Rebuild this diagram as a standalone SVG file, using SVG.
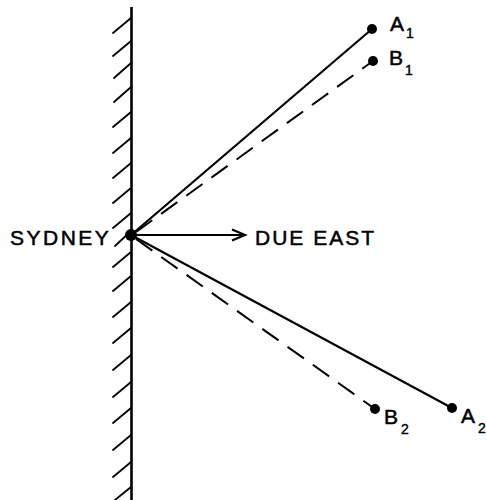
<svg xmlns="http://www.w3.org/2000/svg" width="486" height="500" viewBox="0 0 486 500">
<style>
.bg{fill:#fff}
.wall{stroke:#000;stroke-width:2.6;fill:none}
.hatch{stroke:#000;stroke-width:1.8;fill:none;stroke-linecap:round}
.solid{stroke:#000;stroke-width:2.2;fill:none}
.dash{stroke:#000;stroke-width:2;fill:none;stroke-dasharray:20 11}
.dot{fill:#000}
.lbl{font-family:"Liberation Sans",Arial,sans-serif;font-size:21px;fill:#000;stroke:#000;stroke-width:0.5}
.sub{font-family:"Liberation Sans",Arial,sans-serif;font-size:14px;fill:#000;stroke:#000;stroke-width:0.4}
</style>
<rect class="bg" x="0" y="0" width="486" height="500"/>
<g id="wall">
<line class="wall" x1="131.5" y1="7" x2="131.5" y2="500"/>
<path class="hatch" d="M131 18l-18 15M131 41l-18 15M131 63l-17 15M131 87l-17 15M131 112l-18 15M131 138l-18 15M131 163l-18 15M131 188l-18 15M131 213l-18 15M131 231l-16 15M131 252l-18 15M131 276l-18 15M131 302l-18 15M131 328l-18 15M131 355l-18 15M131 382l-18 15M131 408l-18 15M131 435l-18 15M131 462l-18 15M131 487l-16 13"/>
</g>
<g id="connectors">
<line class="solid" x1="131" y1="235" x2="372" y2="29"/>
<line class="dash" x1="136" y1="232" x2="373" y2="61"/>
<line class="solid" x1="131" y1="235" x2="452" y2="408"/>
<line class="dash" x1="136" y1="239" x2="375" y2="409"/>
<line class="solid" x1="131" y1="235" x2="244" y2="235"/>
<polyline class="solid" points="232,229.5 245,235 232,240.5"/>
</g>
<g id="sydney">
<circle class="dot" cx="131" cy="235" r="6"/>
<text class="lbl" x="10" y="245" letter-spacing="2.5">SYDNEY</text>
</g>
<g id="due-east">
<text class="lbl" x="255" y="245" letter-spacing="2">DUE EAST</text>
</g>
<g id="A1">
<circle class="dot" cx="372" cy="29" r="5"/>
<text class="lbl" x="390" y="31">A</text><text class="sub" x="406" y="38">1</text>
</g>
<g id="B1">
<circle class="dot" cx="373" cy="61" r="5"/>
<text class="lbl" x="389" y="65">B</text><text class="sub" x="405" y="75">1</text>
</g>
<g id="A2">
<circle class="dot" cx="452" cy="408" r="5"/>
<text class="lbl" x="461" y="423">A</text><text class="sub" x="478" y="433">2</text>
</g>
<g id="B2">
<circle class="dot" cx="375" cy="409" r="5"/>
<text class="lbl" x="384" y="424">B</text><text class="sub" x="401" y="434">2</text>
</g>
</svg>
